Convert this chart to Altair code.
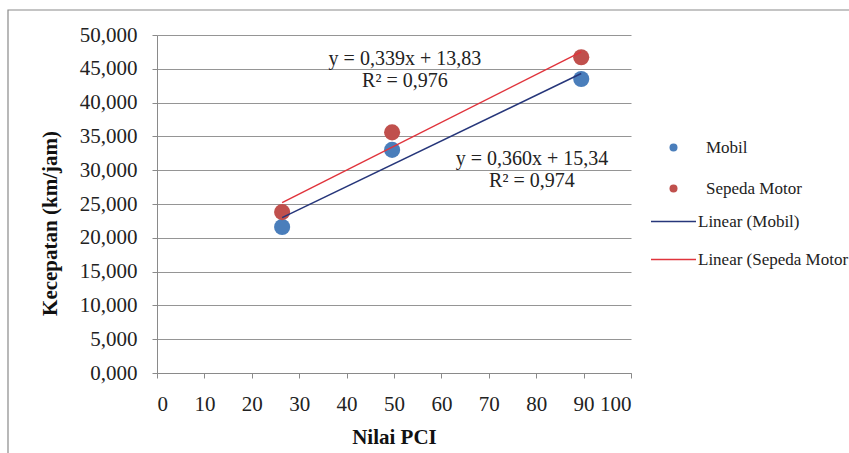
import altair as alt
import pandas as pd

# ---- data ----
pci = [26.4, 49.6, 89.5]
kecepatan_mobil = [21.6, 33.0, 43.5]
kecepatan_motor = [23.8, 35.6, 46.7]
series_names = ["Mobil", "Sepeda Motor"]
trend_names = ["Linear (Mobil)", "Linear (Sepeda Motor"]
eq_texts = ["y = 0,339x + 13,83\nR² = 0,976", "y = 0,360x + 15,34\nR² = 0,974"]
eq_x = [52.3, 79.1]
eq_y = [46.5, 31.6]
x_ticks = list(range(0, 101, 10))
y_ticks = list(range(0, 51, 5))

rows = []
for name, trend, vals in zip(series_names, trend_names, [kecepatan_mobil, kecepatan_motor]):
    for p, v in zip(pci, vals):
        rows.append({"pci": p, "kec": v, "series": name, "trend": trend})
df = pd.DataFrame(rows)
eq_df = pd.DataFrame({"pci": eq_x, "kec": eq_y, "t": eq_texts})

FONT = "Liberation Serif"
point_colors = ["#4A7EBB", "#C0504D"]
line_colors = ["#26367A", "#E0343C"]

xaxis = alt.Axis(
    values=x_ticks, tickCount=len(x_ticks) + 2, title="Nilai PCI", grid=False, format="d",
    titleY=64, titleBaseline="middle", labelFont=FONT, titleFont=FONT,
)
yaxis = alt.Axis(
    values=y_ticks, tickCount=len(y_ticks) + 2, title="Kecepatan (km/jam)",
    labelExpr="replace(format(datum.value, '.3f'), '.', ',')",
    titleX=-107, titleY=188, titleAngle=270, titleBaseline="middle", titleAlign="center",
    labelFont=FONT, titleFont=FONT,
)
xscale = alt.Scale(domain=[0, 100], nice=False)
yscale = alt.Scale(domain=[0, 50], nice=False)


def xenc():
    return alt.X("pci:Q", scale=xscale, axis=xaxis)


def yenc():
    return alt.Y("kec:Q", scale=yscale, axis=yaxis)


frame = alt.Chart(alt.Data(values=[{"a": 1}])).mark_rect(
    fill=None, stroke="#8a8a8a", strokeWidth=1.2
).encode(
    x=alt.value(8 - 157), x2=alt.value(900), y=alt.value(10 - 35), y2=alt.value(520)
)

points = alt.Chart(df).mark_circle(size=260, opacity=1).encode(
    x=xenc(),
    y=yenc(),
    color=alt.Color(
        "series:N",
        scale=alt.Scale(domain=series_names, range=point_colors),
        legend=alt.Legend(
            title=None, orient="none", legendX=508, legendY=104,
            symbolType="circle", symbolSize=64, labelOffset=24,
            rowPadding=23, padding=0, labelFont=FONT, labelFontSize=17,
            labelColor="#222222",
        ),
    ),
)

lines = alt.Chart(df).transform_regression(
    "pci", "kec", groupby=["trend"]
).mark_line(strokeWidth=1.5).encode(
    x=xenc(),
    y=yenc(),
    stroke=alt.Stroke(
        "trend:N",
        scale=alt.Scale(domain=trend_names, range=line_colors),
        legend=alt.Legend(
            title=None, orient="none", legendX=493, legendY=163,
            symbolType="stroke", symbolSize=2025, symbolStrokeWidth=1.5,
            labelOffset=1, rowPadding=6, padding=0, labelFont=FONT,
            labelFontSize=17, labelColor="#222222",
        ),
    ),
)

labels = alt.Chart(eq_df).mark_text(
    font=FONT, fontSize=20, color="#222222", align="center", baseline="middle",
    lineBreak="\n", lineHeight=22,
).encode(x=xenc(), y=yenc(), text="t:N")

chart = alt.layer(frame, points, lines, labels).properties(
    width=474, height=338,
    autosize=alt.AutoSizeParams(type="none"),
    padding={"left": 157, "top": 35, "right": 218, "bottom": 80},
    background="white",
).configure_view(stroke=None).configure_axis(
    labelFont=FONT, titleFont=FONT, labelFontSize=21, titleFontSize=21,
    titleFontWeight="bold", labelColor="#222222", titleColor="#111111",
    domainColor="#8a8a8a", tickColor="#8a8a8a", gridColor="#959595",
    tickSize=5, labelPadding=15, labelOverlap=False,
).configure_axisX(labelPadding=15).configure_legend(
    labelFont=FONT, labelFontSize=17, labelColor="#222222",
).configure_text(font=FONT)

chart.save("out.html", embed_options={"renderer": "svg", "actions": False})
